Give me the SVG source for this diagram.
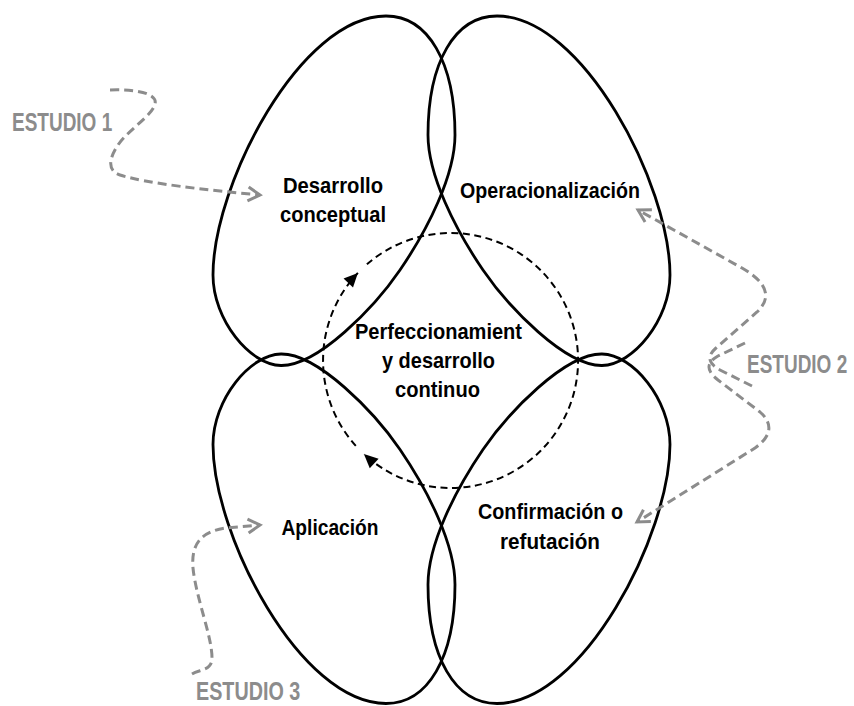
<svg xmlns="http://www.w3.org/2000/svg" xmlns:xlink="http://www.w3.org/1999/xlink" width="854" height="706" viewBox="0 0 854 706">
<style>
.lobe{fill:none;stroke:#000;stroke-width:2.8}
.label{font-family:"Liberation Sans",Arial,sans-serif;font-size:22.5px;font-weight:bold;fill:#000;text-anchor:middle}
.study{font-family:"Liberation Sans",Arial,sans-serif;font-size:25px;font-weight:bold;fill:#8c8c8c}
.cycle{fill:none;stroke:#000;stroke-width:2;stroke-dasharray:7 4.5}
.link{fill:none;stroke:#8c8c8c;stroke-width:3;stroke-dasharray:9 5;marker-end:url(#grayArrow)}
</style>
<defs>
<path id="lobe" d="M386,16 C428,16 455,62 455,135 C455,175 428.2,228.7 400,270 C374.6,307.2 318,366 281,365.5 C250,365 213,320 213,275 C213,185 300,16 386,16 Z"/>
<marker id="blackArrow" markerUnits="userSpaceOnUse" markerWidth="16" markerHeight="14" refX="14" refY="6.5" orient="auto" overflow="visible"><path d="M0,0 L14,6.5 L0,13 Z" fill="#000"/></marker>
<marker id="grayArrow" markerUnits="userSpaceOnUse" markerWidth="16" markerHeight="18" refX="13" refY="8" orient="auto" overflow="visible"><path d="M1,1 L13,8 L1,15" fill="none" stroke="#8c8c8c" stroke-width="3"/></marker>
</defs>
<rect width="854" height="706" fill="#fff"/>
<g id="desarrollo-conceptual">
<use xlink:href="#lobe" class="lobe"/>
<text class="label" x="333" y="193" textLength="100" lengthAdjust="spacingAndGlyphs">Desarrollo</text>
<text class="label" x="333" y="222" textLength="106" lengthAdjust="spacingAndGlyphs">conceptual</text>
</g>
<g id="operacionalizacion">
<use xlink:href="#lobe" class="lobe" transform="matrix(-1 0 0 1 883 0)"/>
<text class="label" x="550" y="198" textLength="180" lengthAdjust="spacingAndGlyphs">Operacionalización</text>
</g>
<g id="aplicacion">
<use xlink:href="#lobe" class="lobe" transform="matrix(1 0 0 -1 0 719.5)"/>
<text class="label" x="330" y="535" textLength="97" lengthAdjust="spacingAndGlyphs">Aplicación</text>
</g>
<g id="confirmacion">
<use xlink:href="#lobe" class="lobe" transform="matrix(-1 0 0 -1 883 719.5)"/>
<text class="label" x="550.5" y="519" textLength="145" lengthAdjust="spacingAndGlyphs">Confirmación o</text>
<text class="label" x="550" y="549" textLength="100" lengthAdjust="spacingAndGlyphs">refutación</text>
</g>
<g id="perfeccionamiento">
<text class="label" x="438.5" y="339" textLength="167" lengthAdjust="spacingAndGlyphs">Perfeccionamient</text>
<text class="label" x="438.5" y="368" textLength="113" lengthAdjust="spacingAndGlyphs">y desarrollo</text>
<text class="label" x="437.5" y="397" textLength="85" lengthAdjust="spacingAndGlyphs">continuo</text>
</g>
<g id="estudio-1"><text class="study" transform="translate(12 131) scale(0.76 1)">ESTUDIO 1</text></g>
<g id="estudio-2"><text class="study" transform="translate(747 373) scale(0.76 1)">ESTUDIO 2</text></g>
<g id="estudio-3"><text class="study" transform="translate(196 700) scale(0.79 1)">ESTUDIO 3</text></g>
<g id="connectors">
<path class="cycle" d="M355.8,445.8 A127.5,127.5 0 0 1 357.9,272.9" marker-end="url(#blackArrow)"/>
<path class="cycle" d="M366.9,264.3 A127.5,127.5 0 1 1 363.9,454.0" marker-end="url(#blackArrow)"/>
<path class="link" d="M110,90 C135,89 158,93 155,104 C152,116 128,130 118,145 C108,160 108,171 120,175 C145,183 205,190 260,195"/>
<path class="link" d="M752,386 L720,370 Q702,360 716,348 L757,312 Q780,290 742,268 L638,210"/>
<path class="link" d="M745,343 L718,356 Q700,366 718,380 L760,412 Q780,430 755,448 L637,522"/>
<path class="link" d="M192,674 C200,669 212,671 212,658 C212,636 196,598 193,568 C191,545 200,532 225,528 L260,525"/>
</g>
</svg>
